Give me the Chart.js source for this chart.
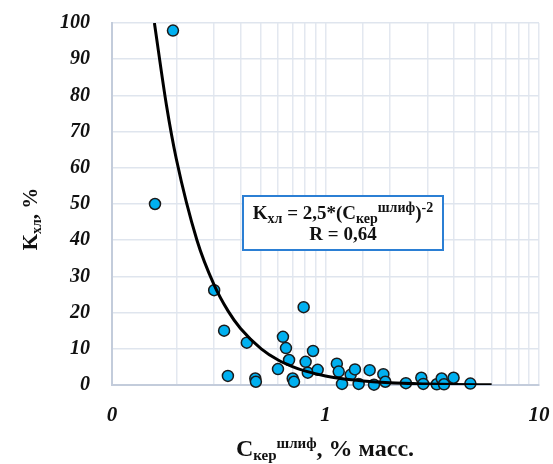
<!DOCTYPE html>
<html>
<head>
<meta charset="utf-8">
<script src="https://cdn.jsdelivr.net/npm/chart.js@4/dist/chart.umd.min.js"></script>
<style>
  html, body { margin: 0; padding: 0; background: #fff; }
  #wrap { width: 553px; height: 464px; }
</style>
</head>
<body>
<div id="wrap"><canvas id="chart" width="553" height="464"></canvas></div>
<script>
// measured points (C кер шлиф, % масс. ; K хл, %)
const cKer = [0.159, 0.193, 0.301, 0.335, 0.349, 0.428, 0.469, 0.472, 0.599, 0.632,
  0.653, 0.675, 0.702, 0.712, 0.790, 0.807, 0.826, 0.874, 0.919, 1.13,
  1.153, 1.195, 1.312, 1.374, 1.43, 1.61, 1.687, 1.866, 1.906, 2.38,
  2.81, 2.87, 3.32, 3.50, 3.59, 3.98, 4.77];
const kHl = [50.0, 97.9, 26.2, 15.0, 2.5, 11.7, 1.8, 0.9, 4.4, 13.3,
  10.2, 6.9, 1.8, 0.9, 21.5, 6.4, 3.4, 9.4, 4.2, 5.9,
  3.7, 0.3, 2.8, 4.3, 0.3, 4.1, 0.1, 3.0, 0.9, 0.5,
  2.0, 0.3, 0.2, 1.8, 0.2, 2.0, 0.4];

// trend curve
const fitX = [0.158, 0.18, 0.2, 0.25, 0.3, 0.35, 0.4, 0.5, 0.6, 0.7, 0.8, 1, 1.2, 1.5, 2, 3, 4, 6];
const fitY = [100, 77.2, 62.5, 40, 27.8, 20.4, 15.6, 10, 6.9, 5.1, 3.9, 2.5, 1.7, 1.1, 0.6, 0.28, 0.16, 0.07];

const xLabels = { 0.1: "0", 1: "1", 10: "10" };
const yTicks = [0, 10, 20, 30, 40, 50, 60, 70, 80, 90, 100];

const serif = '"Liberation Serif", "Times New Roman", serif';

// text with sub/superscripts
function richWidth(ctx, parts) {
  let w = 0;
  parts.forEach(p => { ctx.font = p.font; w += ctx.measureText(p.t).width; });
  return w;
}
function drawRich(ctx, parts, cx, baseY) {
  let x = cx - richWidth(ctx, parts) / 2;
  ctx.textAlign = "left";
  ctx.textBaseline = "alphabetic";
  parts.forEach(p => {
    ctx.font = p.font;
    ctx.fillText(p.t, x, baseY + (p.dy || 0));
    x += ctx.measureText(p.t).width;
  });
}

const extras = {
  id: "extras",
  afterDraw(chart) {
    const ctx = chart.ctx;
    ctx.save();
    ctx.fillStyle = "#111";

    // y axis title
    const main = "bold 21px " + serif;
    const small = "bold 14px " + serif;
    ctx.save();
    ctx.translate(37, 219);
    ctx.rotate(-Math.PI / 2);
    drawRich(ctx, [
      { t: "K", font: main },
      { t: "хл", font: small, dy: 4 },
      { t: ", %", font: main }
    ], 0, 0);
    ctx.restore();

    // x axis title
    drawRich(ctx, [
      { t: "C", font: "bold 24px " + serif },
      { t: "кер", font: "bold 15px " + serif, dy: 4 },
      { t: "шлиф", font: "bold 15px " + serif, dy: -8 },
      { t: ", % масс.", font: "bold 24px " + serif }
    ], 325, 456);

    // equation box
    const bx = 243, by = 196, bw = 200, bh = 54;
    ctx.fillStyle = "#fff";
    ctx.fillRect(bx, by, bw, bh);
    ctx.strokeStyle = "#2b7fd4";
    ctx.lineWidth = 2;
    ctx.strokeRect(bx, by, bw, bh);
    ctx.fillStyle = "#111";
    const f1 = "bold 19px " + serif, f2 = "bold 14px " + serif;
    drawRich(ctx, [
      { t: "K", font: f1 },
      { t: "хл", font: f2, dy: 4 },
      { t: " = 2,5*(C", font: f1 },
      { t: "кер", font: f2, dy: 4 },
      { t: "шлиф", font: f2, dy: -7 },
      { t: ")", font: f1 },
      { t: "-2", font: f2, dy: -7 }
    ], 343, 219);
    drawRich(ctx, [{ t: "R = 0,64", font: f1 }], 343, 240);
    ctx.restore();
  }
};

new Chart(document.getElementById("chart"), {
  type: "scatter",
  data: {
    datasets: [
      {
        label: "fit",
        data: fitX.map((x, i) => ({ x: x, y: fitY[i] })),
        showLine: true,
        borderColor: "#000",
        borderWidth: 3,
        pointRadius: 0,
        cubicInterpolationMode: "monotone"
      },
      {
        label: "points",
        data: cKer.map((x, i) => ({ x: x, y: kHl[i] })),
        backgroundColor: "#00b0f0",
        borderColor: "#1b1b1b",
        borderWidth: 1.5,
        pointRadius: 5.5,
        clip: false
      }
    ]
  },
  options: {
    responsive: false,
    animation: false,
    layout: { autoPadding: false, padding: { left: 0, top: 23, right: 14, bottom: 0 } },
    plugins: { legend: { display: false }, tooltip: { enabled: false } },
    scales: {
      x: {
        type: "logarithmic",
        min: 0.1,
        max: 10,
        afterFit: s => { s.height = 79; s.paddingLeft = 0; s.paddingRight = 0; },
        grid: { color: "#e3e8f0", lineWidth: 1.5, drawTicks: false },
        border: { color: "#c3ccdb", width: 2 },
        ticks: {
          autoSkip: false,
          maxRotation: 0,
          padding: 18,
          color: "#111",
          font: { family: serif, size: 21, style: "italic", weight: "bold" },
          callback: v => {
            for (const k in xLabels) if (Math.abs(v - k) < 1e-9) return xLabels[k];
            return "";
          }
        }
      },
      y: {
        min: 0,
        max: 100,
        afterFit: s => { s.width = 112; s.paddingTop = 0; s.paddingBottom = 0; },
        afterBuildTicks: s => { s.ticks = yTicks.map(v => ({ value: v })); },
        grid: { color: "#dfe5ee", lineWidth: 1.5, drawTicks: false },
        border: { color: "#c3ccdb", width: 2 },
        ticks: {
          padding: 22,
          color: "#111",
          font: { family: serif, size: 20, style: "italic", weight: "bold" }
        }
      }
    }
  },
  plugins: [extras]
});
</script>
</body>
</html>
